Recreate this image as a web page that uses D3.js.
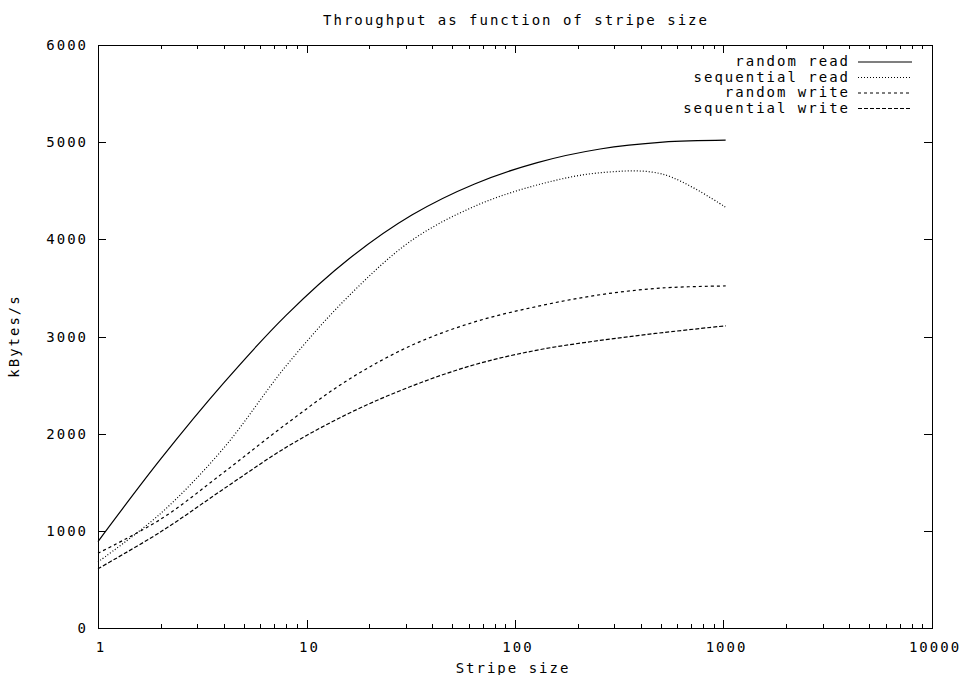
<!DOCTYPE html>
<html lang="en">
<head>
  <meta charset="utf-8"/>
  <title>Throughput as function of stripe size</title>
  <script src="https://cdn.jsdelivr.net/npm/d3@7/dist/d3.min.js"></script>
  <style>
    html,body { margin:0; padding:0; background:#fff; }
    svg text { font-family:"DejaVu Sans Mono", monospace; font-size:14px;
               letter-spacing:2px; fill:#000; }
  </style>
</head>
<body>
  <svg width="962" height="675"></svg>

  <script>
  // Data
  const stripeSizes     = [1, 2, 4, 8, 16, 32, 64, 128, 256, 512, 1024];
  const randomRead      = [890, 1740, 2520, 3220, 3800, 4250, 4570, 4790, 4930, 5000, 5020];
  const sequentialRead  = [680, 1180, 1850, 2700, 3420, 3990, 4340, 4560, 4685, 4670, 4330];
  const randomWrite     = [770, 1120, 1600, 2100, 2560, 2910, 3150, 3310, 3430, 3500, 3520];
  const sequentialWrite = [610, 990, 1430, 1860, 2210, 2490, 2710, 2860, 2960, 3040, 3110];

  const seriesNames = ["random read", "sequential read", "random write", "sequential write"];
  const seriesVals  = [randomRead, sequentialRead, randomWrite, sequentialWrite];
  const dashes      = [null, "1,2", "3,3", "4,2"];

  const xTicks = [1, 10, 100, 1000, 10000];
  const yTicks = [0, 1000, 2000, 3000, 4000, 5000, 6000];

  // frame
  const L = 98, R = 932, T = 45, B = 628;
  const LS = 2; // letter-spacing, trailing space correction

  const svg = d3.select("svg");
  const x = d3.scaleLog().domain([1, 10000]).range([L, R]);
  const y = d3.scaleLinear().domain([0, 6000]).range([B, T]);

  // border
  svg.append("rect")
    .attr("x", L + 0.5).attr("y", T + 0.5)
    .attr("width", R - L).attr("height", B - T)
    .attr("fill", "none").attr("stroke", "#000")
    .attr("shape-rendering", "crispEdges");

  // y ticks (mirrored)
  const tg = svg.append("g").attr("stroke", "#000").attr("shape-rendering", "crispEdges");
  yTicks.forEach(v => {
    const yy = Math.round(y(v)) + 0.5;
    tg.append("line").attr("x1", L).attr("x2", L + 8).attr("y1", yy).attr("y2", yy);
    tg.append("line").attr("x1", R).attr("x2", R - 8).attr("y1", yy).attr("y2", yy);
    svg.append("text")
      .attr("x", 86 + LS).attr("y", y(v) + 5)
      .attr("text-anchor", "end").text(v);
  });

  // x ticks: decades + minor 2..9 (top and bottom)
  for (let d = 1; d < 10000; d *= 10) {
    for (let m = 1; m < 10; m++) {
      const xx = Math.round(x(d * m)) + 0.5;
      const len = m === 1 ? 8 : 4;
      tg.append("line").attr("x1", xx).attr("x2", xx).attr("y1", B).attr("y2", B - len);
      tg.append("line").attr("x1", xx).attr("x2", xx).attr("y1", T).attr("y2", T + len);
    }
  }
  xTicks.forEach(v => {
    svg.append("text")
      .attr("x", x(v) + LS / 2 + 2).attr("y", 652)
      .attr("text-anchor", "middle").text(v);
  });

  // titles
  svg.append("text").attr("x", 515 + LS / 2).attr("y", 25)
    .attr("text-anchor", "middle").text("Throughput as function of stripe size");
  svg.append("text").attr("x", 512 + LS / 2).attr("y", 673)
    .attr("text-anchor", "middle").text("Stripe size");
  svg.append("text")
    .attr("transform", "translate(19,337) rotate(-90)")
    .attr("text-anchor", "middle").attr("dx", LS / 2).text("kBytes/s");

  // lines
  const line = d3.line()
    .x(d => x(d[0])).y(d => y(d[1]))
    .curve(d3.curveCatmullRom.alpha(0.5));

  seriesVals.forEach((vals, i) => {
    svg.append("path")
      .datum(stripeSizes.map((s, j) => [s, vals[j]]))
      .attr("d", line)
      .attr("fill", "none").attr("stroke", "#000")
      .attr("stroke-width", 1.2)
      .attr("stroke-dasharray", dashes[i]);
  });

  // legend
  const rowY = [62, 77.5, 93, 108.5];
  seriesNames.forEach((n, i) => {
    svg.append("text")
      .attr("x", 848 + LS).attr("y", rowY[i] + 4)
      .attr("text-anchor", "end").text(n);
    svg.append("line")
      .attr("x1", 858).attr("x2", 912)
      .attr("y1", rowY[i]).attr("y2", rowY[i])
      .attr("stroke", "#000").attr("stroke-width", 1.2)
      .attr("stroke-dasharray", dashes[i]);
  });
  </script>
</body>
</html>
